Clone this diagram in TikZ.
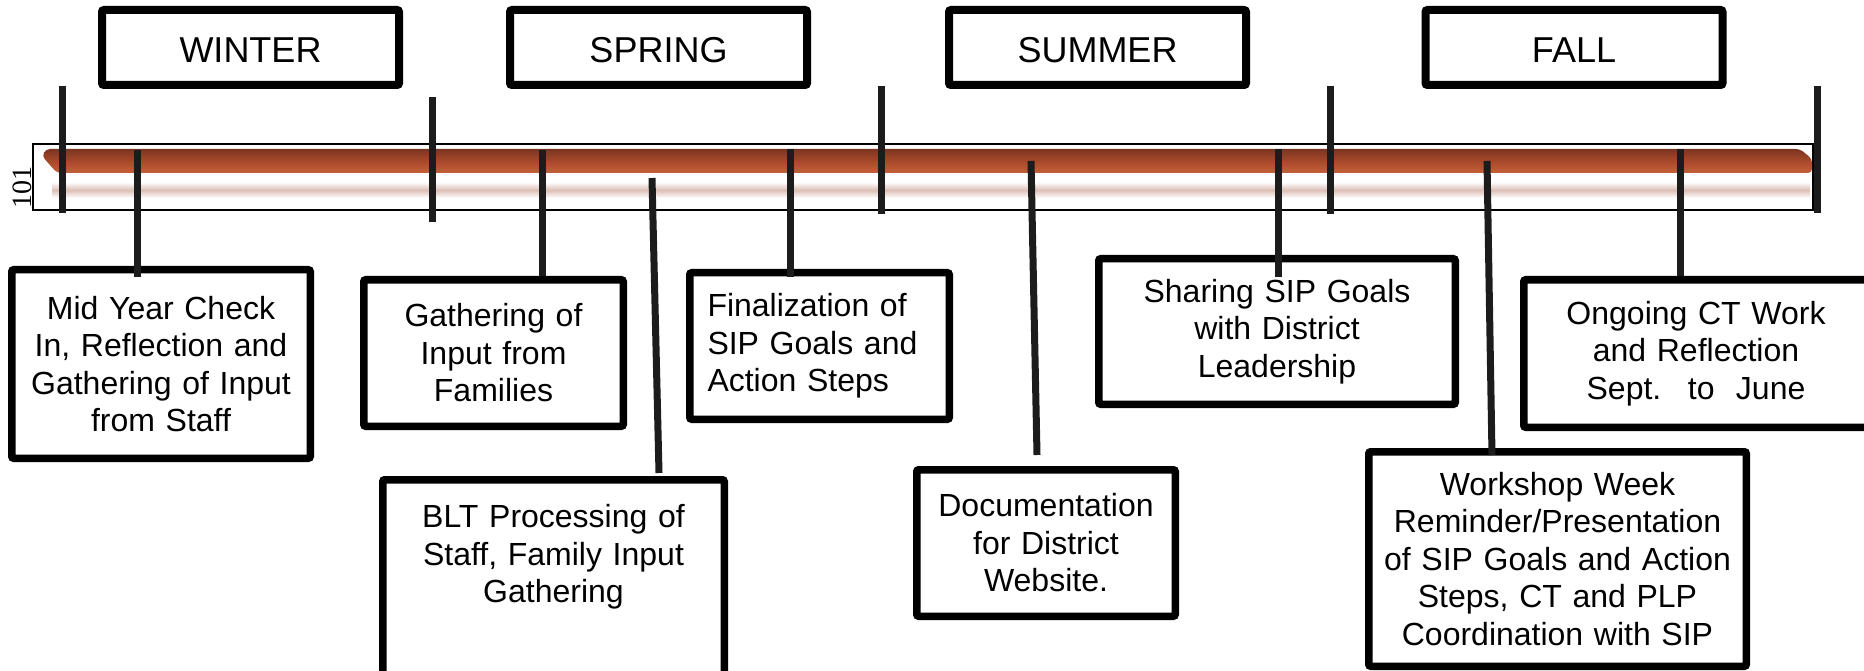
\documentclass[tikz,border=0pt]{standalone}
\usepackage{fontspec}
\setmainfont{Liberation Sans}
\newfontfamily\codefont{Liberation Serif}
\usetikzlibrary{calc}

\definecolor{inkline}{HTML}{1C1C1C}
\definecolor{barTop}{HTML}{7A3520}
\definecolor{barMid}{HTML}{A8492A}
\definecolor{barBot}{HTML}{C5613B}
\definecolor{reflpink}{HTML}{DCBFB6}

\newcommand{\evfont}{\fontsize{32}{37.5}\selectfont}
\newcommand{\seasonfont}{\fontsize{36}{40}\selectfont}

\begin{document}
\begin{tikzpicture}[x=1pt, y=-1pt,
    season/.style={draw, line width=8pt, rounded corners=2pt, minimum width=297pt, minimum height=75pt, text height=30pt, font=\seasonfont},
    evbox/.style={draw, fill=white, line width=7.5pt, rounded corners=2pt, inner sep=0pt, align=center, font=\evfont},
    tickline/.style={draw=inkline, line width=7pt},
    evline/.style={draw=inkline, line width=7pt}]
        \useasboundingbox (0,0) rectangle (1864,671);

        % the time bar
        \draw[line width=1.5pt, fill=white] (33,144) rectangle (1813,210);
        \shade[top color=barTop, bottom color=barBot, middle color=barMid, rounded corners=4pt]
            (46,149) -- (1800,149) -- (1812,159) -- (1812,173) -- (57,173) -- (42,156) -- cycle;
        \shade[top color=white, bottom color=white, middle color=reflpink] (52,182) rectangle (1810,198);
        \node[rotate=90, font=\codefont\fontsize{28}{28}\selectfont] (code) at (22,188) {101};

        % season ticks
        \foreach \x/\ya/\yb in {62/86/213, 432/97/222, 881/86/214, 1330/86/214, 1817/86/213}
            \draw[tickline] (\x,\ya) -- (\x,\yb);

        % seasons
        \node[season] (winter) at (250.5,47.5) {WINTER};
        \node[season] (spring) at (658.5,47.5) {SPRING};
        \node[season] (summer) at (1097.5,47.5) {SUMMER};
        \node[season] (fall) at (1574,47.5) {FALL};

        % events
        \node[evbox, text width=298.5pt, minimum height=188.5pt] (mid) at (161,364)
            {Mid Year Check\\In, Reflection and\\Gathering of Input\\from Staff};
        \node[evbox, text width=259.5pt, minimum height=146.5pt] (fam) at (493.5,353)
            {Gathering of\\Input from\\Families};
        \node[evbox, anchor=north, text width=341.5pt, text height=48pt, text depth=158pt] (blt) at (553.5,476)
            {BLT Processing of\\Staff, Family Input\\Gathering};
        \node[evbox, align=left, text width=224pt, minimum width=259.5pt, minimum height=146.5pt] (final) at (819.5,346)
            {Finalization of\\SIP Goals and\\Action Steps};
        \node[evbox, text width=258.5pt, minimum height=146.5pt] (docweb) at (1046,543)
            {Documentation\\for District\\Website.};
        \node[evbox, text width=356.5pt, minimum height=145.5pt] (share) at (1277,331.5)
            {Sharing SIP Goals\\with District\\Leadership};
        \node[evbox, text width=344.5pt, minimum height=147.5pt] (ongo) at (1696,353.5)
            {Ongoing CT Work\\and Reflection\\Sept.~ to~ June};
        \node[evbox, text width=377.5pt, minimum height=214.5pt] (wkshop) at (1557.5,559)
            {Workshop Week\\Reminder/Presentation\\of SIP Goals and Action\\Steps, CT and PLP\\Coordination with SIP};

        % points on the bar
        \coordinate (p1) at (137,150);
        \coordinate (p2) at (542,150);
        \coordinate (p3) at (652,178);
        \coordinate (p4) at (790,149);
        \coordinate (p5) at (1031,161);
        \coordinate (p6) at (1278,149);
        \coordinate (p7) at (1487,161);
        \coordinate (p8) at (1680,149);

        \draw[evline] (p1) -- ($(p1 |- mid.north)+(0,11)$);
        \draw[evline] (p2) -- (p2 |- fam.north);
        \draw[evline] (p3) -- ($(blt.north)+(105.5,-3)$);
        \draw[evline] (p4) -- ($(p4 |- final.north)+(0,8)$);
        \draw[evline] (p5) -- ($(docweb.north)+(-9,-11)$);
        \draw[evline] (p6) -- ($(p6 |- share.north)+(0,22)$);
        \draw[evline] (p7) -- ($(wkshop.north)+(-65.5,7)$);
        \draw[evline] (p8) -- (p8 |- ongo.north);
    \end{tikzpicture}
\end{document}
